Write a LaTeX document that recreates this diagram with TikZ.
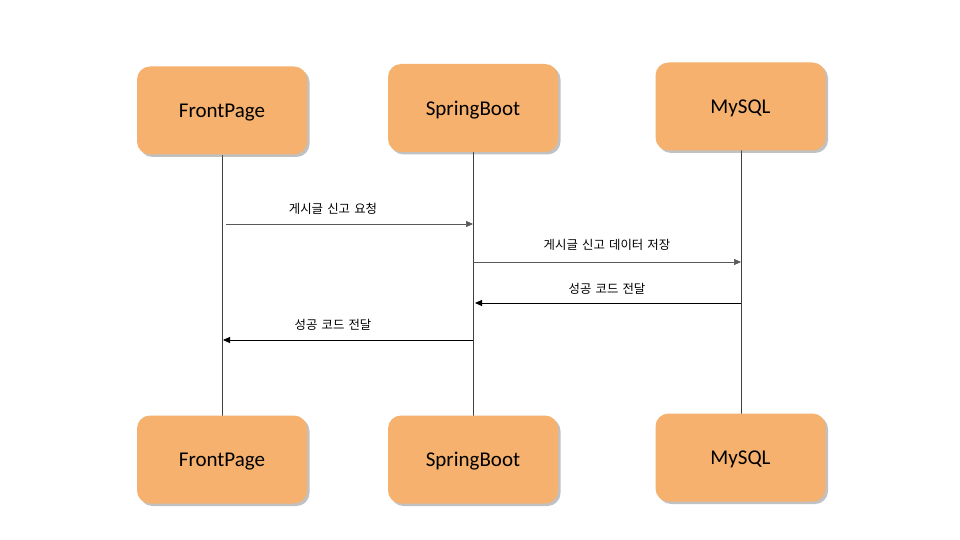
\documentclass[tikz,border=0pt]{standalone}
\usepackage{fontspec}
\setmainfont{Carlito}
\newfontfamily\krfont[WordSpace=1.5]{Noto Sans CJK KR}
\usetikzlibrary{shadows,arrows.meta}
\definecolor{boxfill}{HTML}{F5B16D}
\definecolor{msggray}{HTML}{595959}
\tikzset{
  actor/.style={draw=none, fill=boxfill, rounded corners=13pt, minimum width=170pt, minimum height=88pt,
    font=\fontsize{21}{25}\selectfont, text=black, text depth=0pt,
    drop shadow={shadow xshift=2.5pt, shadow yshift=-2.5pt, opacity=0.4, fill=black!60}},
  life/.style={draw=black!75, line width=0.6pt},
  msgg/.style={draw=msggray, line width=0.7pt, -{Triangle[length=7pt,width=6pt]}},
  msgb/.style={draw=black, line width=0.9pt, -{Triangle[length=7pt,width=6pt]}},
  lbl/.style={font=\krfont\fontsize{12.4}{15}\selectfont, text=black, inner sep=0pt}
}
\begin{document}
\begin{tikzpicture}[x=1pt,y=-1pt]
\useasboundingbox (0,0) rectangle (960,540);
\fill[white] (0,0) rectangle (960,540);
% lifelines first
\coordinate (fpt) at (222,155);
\coordinate (fpb) at (222,416);
\coordinate (sbt) at (473,152);
\coordinate (sbb) at (473,416);
\coordinate (myt) at (741,150);
\coordinate (myb) at (741,414);
\draw[life] (fpt) -- (fpb);
\draw[life] (sbt) -- (sbb);
\draw[life] (myt) -- (myb);
% actors
\node[actor] (fp1) at (222,110.5) {FrontPage};
\node[actor] (sb1) at (473,108) {SpringBoot};
\node[actor] (my1) at (740.5,106.5) {MySQL};
\node[actor] (fp2) at (222,459.5) {FrontPage};
\node[actor] (sb2) at (473,459.5) {SpringBoot};
\node[actor] (my2) at (740.5,457.5) {MySQL};
% messages
\coordinate (m1s) at (226,224); \coordinate (m1e) at (473,224);
\coordinate (m2s) at (473,262); \coordinate (m2e) at (741,262);
\coordinate (m3s) at (741,303); \coordinate (m3e) at (475,303);
\coordinate (m4s) at (473,340); \coordinate (m4e) at (223,340);
\draw[msgg] (m1s) -- (m1e);
\draw[msgg] (m2s) -- (m2e);
\draw[msgb] (m3s) -- (m3e);
\draw[msgb] (m4s) -- (m4e);
\node[lbl] (l1) at (333,209) {게시글 신고 요청};
\node[lbl] (l2) at (607,245) {게시글 신고 데이터 저장};
\node[lbl] (l3) at (607,289) {성공 코드 전달};
\node[lbl] (l4) at (333,325) {성공 코드 전달};
\end{tikzpicture}
\end{document}
